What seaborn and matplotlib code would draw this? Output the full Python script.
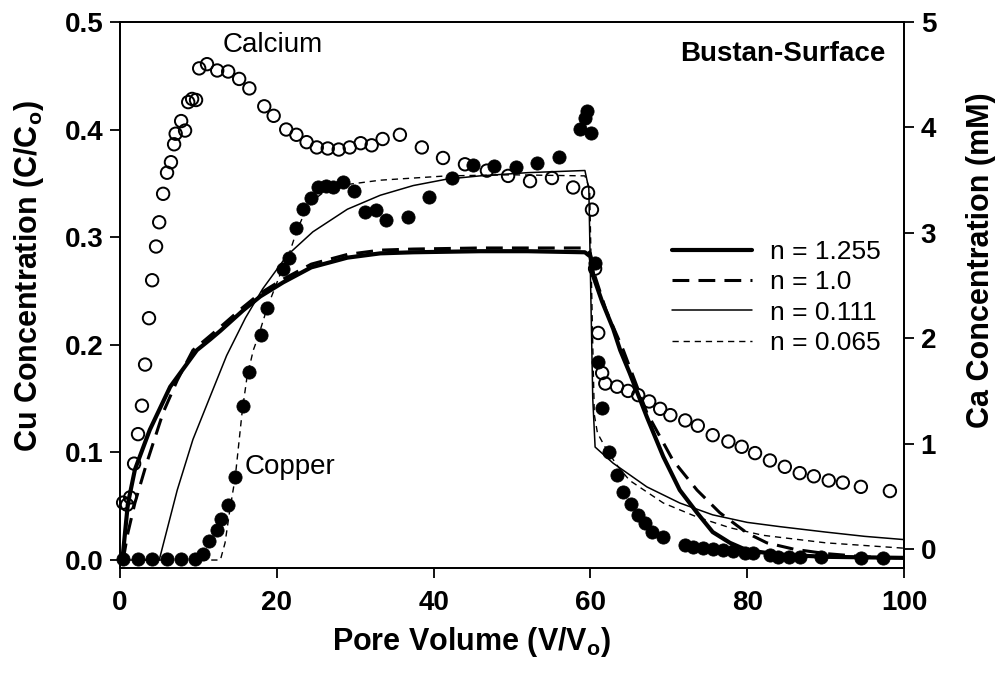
import numpy as np
import pandas as pd
import matplotlib
matplotlib.use("Agg")
import matplotlib.pyplot as plt
import seaborn as sns

# ---------------- data ----------------
ca_x = [0.4, 0.9, 1.3, 1.8, 2.3, 2.8, 3.2, 3.7, 4.1, 4.6, 5.0, 5.5, 6.0, 6.5, 6.9, 7.1,
        7.8, 8.3, 8.7, 9.2, 9.7, 10.1, 11.1, 12.4, 13.8, 15.2, 16.5, 18.4, 19.6, 21.2,
        22.5, 23.8, 25.1, 26.5, 27.9, 29.3, 30.7, 32.1, 33.5, 35.7, 38.5, 41.2, 44.0,
        46.8, 49.5, 52.3, 55.1, 57.8, 59.7, 60.2, 60.6, 61.0, 61.5, 61.9, 63.4, 64.8,
        66.1, 67.5, 68.9, 70.2, 72.1, 73.7, 75.6, 77.6, 79.3, 81.0, 82.9, 84.8, 86.7,
        88.5, 90.4, 92.2, 94.5, 98.2]
ca_y = [0.44, 0.42, 0.49, 0.81, 1.09, 1.36, 1.75, 2.19, 2.55, 2.87, 3.10, 3.37, 3.57,
        3.67, 3.84, 3.94, 4.06, 3.97, 4.24, 4.27, 4.26, 4.56, 4.60, 4.54, 4.53, 4.46,
        4.37, 4.20, 4.11, 3.98, 3.93, 3.86, 3.81, 3.80, 3.79, 3.81, 3.85, 3.83, 3.89,
        3.93, 3.81, 3.71, 3.65, 3.59, 3.54, 3.49, 3.52, 3.43, 3.38, 3.22, 2.66, 2.05,
        1.67, 1.57, 1.54, 1.50, 1.46, 1.40, 1.33, 1.27, 1.22, 1.17, 1.08, 1.02, 0.97,
        0.91, 0.84, 0.78, 0.72, 0.69, 0.65, 0.63, 0.59, 0.55]

cu_x = [0.4, 2.3, 4.1, 6.0, 7.8, 9.6, 10.6, 11.4, 12.4, 12.9, 13.8, 14.7, 15.7, 16.5,
        18.0, 18.8, 20.8, 21.6, 22.5, 23.3, 24.4, 25.3, 26.3, 27.2, 28.4, 29.9, 31.3,
        32.7, 33.9, 36.7, 39.4, 42.4, 45.0, 47.7, 50.5, 53.2, 56.0, 58.7, 59.3, 59.6,
        60.1, 60.6, 61.0, 61.5, 62.4, 63.4, 64.2, 65.2, 66.1, 67.0, 67.9, 69.3, 72.1,
        73.1, 74.4, 75.6, 76.9, 78.2, 79.7, 80.7, 82.9, 83.9, 85.3, 86.7, 89.4, 94.5,
        97.3]
cu_y = [0.001, 0.001, 0.001, 0.001, 0.001, 0.001, 0.006, 0.018, 0.028, 0.038, 0.051,
        0.077, 0.143, 0.175, 0.209, 0.234, 0.270, 0.281, 0.309, 0.326, 0.336, 0.347,
        0.348, 0.347, 0.351, 0.343, 0.323, 0.325, 0.316, 0.319, 0.337, 0.355, 0.367,
        0.366, 0.365, 0.369, 0.375, 0.401, 0.411, 0.417, 0.397, 0.276, 0.184, 0.141,
        0.100, 0.079, 0.063, 0.052, 0.042, 0.034, 0.026, 0.021, 0.014, 0.012, 0.011,
        0.010, 0.009, 0.008, 0.007, 0.007, 0.005, 0.003, 0.003, 0.003, 0.003, 0.002,
        0.002]

# model curves
n1255_x = [0.3, 1.0, 1.9, 3.8, 6.4, 9.8, 11.5, 12.8, 15.7, 17.9, 20.8, 24.4, 29.0, 33.2,
           37.4, 45.9, 52.0, 59.3, 60.0, 60.4, 61.5, 62.9, 63.8, 65.0, 67.2, 69.3, 71.4,
           73.6, 75.6, 77.8, 80.0, 84.2, 90.0, 100.0]
n1255_y = [0.0, 0.052, 0.084, 0.121, 0.161, 0.195, 0.205, 0.213, 0.232, 0.245, 0.258,
           0.272, 0.281, 0.285, 0.286, 0.287, 0.287, 0.286, 0.282, 0.263, 0.240, 0.215,
           0.195, 0.174, 0.133, 0.096, 0.065, 0.044, 0.026, 0.016, 0.009, 0.005, 0.003,
           0.002]

n10_x = [0.4, 1.0, 1.9, 3.4, 5.5, 7.3, 9.3, 12.4, 15.7, 17.9, 20.8, 24.4, 29.0, 33.2,
         37.4, 45.9, 52.0, 59.4, 60.0, 60.4, 62.0, 64.2, 67.2, 70.5, 73.6, 76.5, 80.0,
         82.5, 86.0, 90.0, 95.0, 100.0]
n10_y = [0.0, 0.025, 0.053, 0.090, 0.137, 0.167, 0.195, 0.214, 0.235, 0.248, 0.261,
         0.275, 0.284, 0.288, 0.289, 0.290, 0.290, 0.290, 0.285, 0.268, 0.232, 0.195,
         0.137, 0.093, 0.065, 0.044, 0.025, 0.016, 0.010, 0.006, 0.003, 0.002]

n0111_x = [0.3, 5.0, 7.3, 9.3, 11.5, 13.6, 16.0, 18.2, 21.3, 24.6, 29.0, 33.2, 37.4,
           41.7, 45.9, 52.0, 59.3, 59.8, 60.3, 60.6, 62.9, 67.2, 71.4, 75.6, 80.0, 84.2,
           90.0, 95.0, 100.0]
n0111_y = [0.0, 0.0, 0.065, 0.112, 0.152, 0.190, 0.225, 0.252, 0.283, 0.305, 0.326,
           0.339, 0.348, 0.354, 0.357, 0.360, 0.362, 0.345, 0.150, 0.105, 0.090, 0.068,
           0.053, 0.042, 0.035, 0.031, 0.026, 0.022, 0.019]

n0065_x = [0.3, 12.8, 13.4, 14.0, 14.7, 15.6, 16.2, 17.0, 17.6, 18.8, 20.4, 21.6, 22.5,
           23.5, 24.6, 26.0, 29.0, 33.2, 41.7, 50.0, 59.3, 59.9, 60.3, 60.5, 60.9, 62.1,
           63.5, 65.0, 69.3, 73.6, 77.8, 82.0, 90.0, 100.0]
n0065_y = [0.0, 0.0, 0.016, 0.046, 0.077, 0.139, 0.170, 0.195, 0.207, 0.235, 0.265,
           0.285, 0.305, 0.322, 0.334, 0.342, 0.349, 0.353, 0.357, 0.358, 0.357, 0.345,
           0.200, 0.135, 0.118, 0.102, 0.087, 0.074, 0.053, 0.040, 0.030, 0.023, 0.016,
           0.011]

legend_labels = ["n = 1.255", "n = 1.0", "n = 0.111", "n = 0.065"]
x_ticks = [0, 20, 40, 60, 80, 100]
cu_ticks = [0.0, 0.1, 0.2, 0.3, 0.4, 0.5]
ca_ticks = [0, 1, 2, 3, 4, 5]

# ---------------- style ----------------
sns.set_style("ticks")
plt.rcParams["font.family"] = ["Liberation Sans", "DejaVu Sans"]
plt.rcParams["axes.edgecolor"] = "black"
plt.rcParams["xtick.color"] = "black"
plt.rcParams["ytick.color"] = "black"
plt.rcParams["text.color"] = "black"
plt.rcParams["axes.labelcolor"] = "black"

W, H = 997, 673
fig = plt.figure(figsize=(W / 100, H / 100), dpi=100)
L, R, T, B = 120, 904, 22, 568
ax = fig.add_axes([L / W, 1 - B / H, (R - L) / W, (B - T) / H])
ax2 = ax.twinx()

TICK_FS = 20
LAB_FS = 22

# model lines
curves = [
    (n1255_x, n1255_y, dict(linewidth=3.0, linestyle="-")),
    (n10_x, n10_y, dict(linewidth=2.2, linestyle=(0, (5.5, 3.0)))),
    (n0111_x, n0111_y, dict(linewidth=1.1, linestyle="-")),
    (n0065_x, n0065_y, dict(linewidth=1.0, linestyle=(0, (4.5, 3.5)))),
]
handles = []
for (xs, ys, st), lab in zip(curves, legend_labels):
    df = pd.DataFrame({"x": xs, "y": ys})
    sns.lineplot(data=df, x="x", y="y", ax=ax, color="black", sort=False,
                 estimator=None, label=lab, zorder=3, **st)
    handles.append(ax.lines[-1])

# copper points
cu_df = pd.DataFrame({"x": cu_x, "y": cu_y})
sns.scatterplot(data=cu_df, x="x", y="y", ax=ax, color="black", s=90,
                edgecolor="black", linewidth=0.6, zorder=4, clip_on=False, legend=False)

# calcium points
ca_df = pd.DataFrame({"x": ca_x, "y": ca_y})
sns.scatterplot(data=ca_df, x="x", y="y", ax=ax2, facecolor="none",
                edgecolor="black", linewidth=1.4, s=80, zorder=4, clip_on=False,
                legend=False)
ax2.collections[-1].set_facecolor("none")

# axes
ax.set_xlim(0, 100)
ax.set_ylim(-0.0074, 0.5)
ax2.set_ylim(-0.18, 5)
ax.set_xticks(x_ticks)
ax.set_yticks(cu_ticks)
ax.set_yticklabels([f"{v:.1f}" for v in cu_ticks])
ax2.set_yticks(ca_ticks)

for a in (ax, ax2):
    for s in a.spines.values():
        s.set_linewidth(1.3)
        s.set_color("black")
ax.tick_params(axis="both", direction="out", length=7, width=1.3,
               labelsize=TICK_FS, top=False, right=False)
ax.tick_params(axis="x", pad=9)
ax.tick_params(axis="y", pad=5)
ax2.tick_params(axis="y", direction="out", length=7, width=1.3,
                labelsize=TICK_FS, pad=5)
for lab in ax.get_xticklabels() + ax.get_yticklabels() + ax2.get_yticklabels():
    lab.set_fontweight("bold")

ax.set_xlabel(r"Pore Volume (V/V$_\mathregular{o}$)", fontsize=LAB_FS, fontweight="bold")
ax.set_ylabel(r"Cu Concentration (C/C$_\mathregular{o}$)", fontsize=LAB_FS, fontweight="bold")
ax2.set_ylabel("Ca Concentration (mM)", fontsize=LAB_FS, fontweight="bold")
ax.xaxis.set_label_coords(0.448, -0.104)
ax.yaxis.set_label_coords(-0.094, 0.535)
ax2.yaxis.set_label_coords(1.079, 0.564)

# annotations
ax.text(13.1, 0.4786, "Calcium", fontsize=20, ha="left", va="center")
ax.text(15.9, 0.0864, "Copper", fontsize=20, ha="left", va="center")
ax.text(97.7, 0.470, "Bustan-Surface", fontsize=20, fontweight="bold",
        ha="right", va="center")

# legend
leg = ax.legend(handles=handles, labels=legend_labels, loc="upper left",
                bbox_to_anchor=(0.704, 0.601), frameon=False, fontsize=19,
                handlelength=3.05, handletextpad=0.68, labelspacing=0.24,
                borderpad=0, borderaxespad=0)

ax2.patch.set_visible(False)

fig.savefig("out.png", dpi=100)
